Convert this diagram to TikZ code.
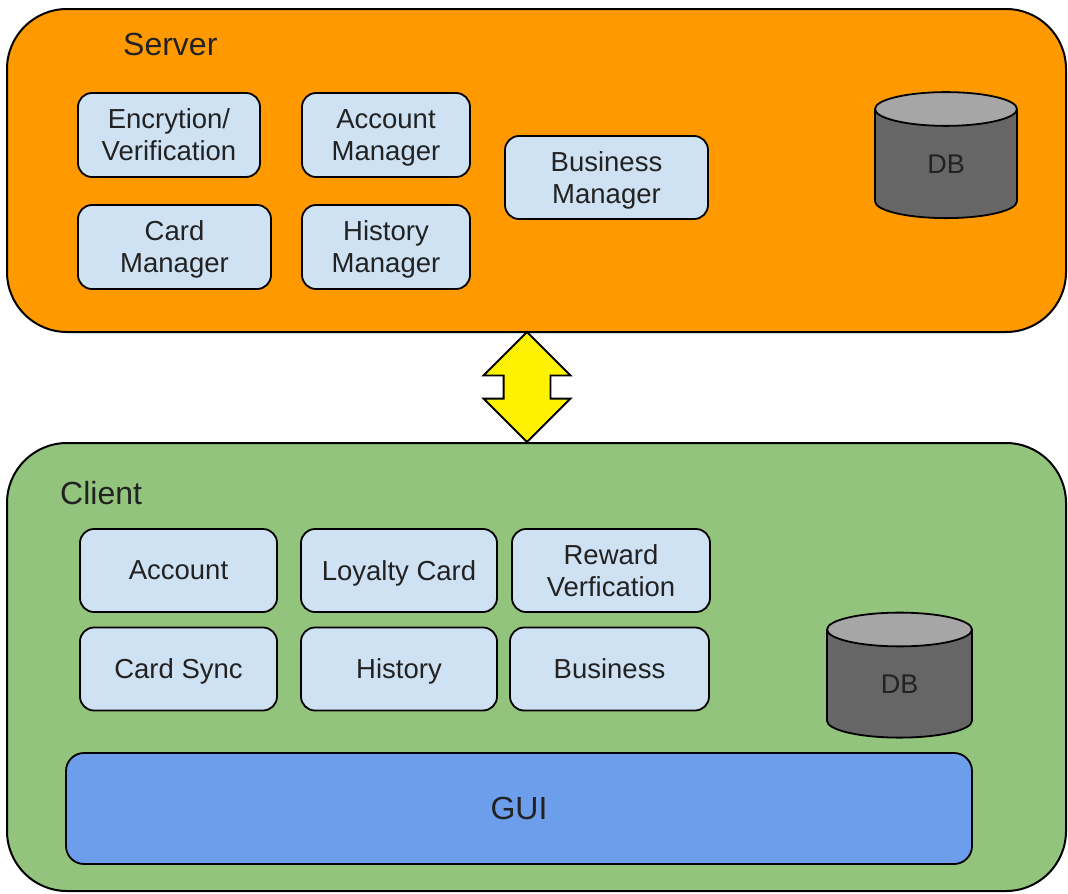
\documentclass[tikz,border=0pt]{standalone}
\usepackage{fontspec}
\setmainfont{Liberation Sans}
\usepackage{xcolor}
\usepackage{tikz}
\usetikzlibrary{shapes.geometric}
\usetikzlibrary{shapes.arrows}
\definecolor{srvorange}{HTML}{FF9900}
\definecolor{cligreen}{HTML}{93C47D}
\definecolor{modblue}{HTML}{CFE2F3}
\definecolor{guiblue}{HTML}{6D9EEB}
\definecolor{dbbody}{HTML}{666666}
\definecolor{dbtop}{HTML}{A6A6A6}
\definecolor{txtgray}{HTML}{222222}
\tikzset{
    tier/.style = {rectangle, draw=black, line width=2pt, rounded corners=60pt, inner sep=0pt},
    orange_tier/.style = {tier, fill=srvorange},
    green_tier/.style = {tier, fill=cligreen},
    title/.style = {anchor=west, inner sep=0pt, text=txtgray, font=\fontsize{32}{36}\selectfont}
}
\tikzset{
    mod_node/.style = {rectangle, draw=black, line width=1.8pt, rounded corners=14pt, fill=modblue, align=center, text=txtgray, minimum height=84pt, inner sep=0pt, text depth=0pt, font=\fontsize{27.5}{32}\selectfont},
    gui_node/.style = {mod_node, fill=guiblue, rounded corners=18pt, minimum height=111pt, font=\fontsize{32}{36}\selectfont},
    db_node/.style = {cylinder, shape border rotate=90, aspect=0.9, draw=black, line width=1.8pt, cylinder uses custom fill, cylinder body fill=dbbody, cylinder end fill=dbtop, text=txtgray, inner sep=0pt, font=\fontsize{27}{30}\selectfont},
    link_arrow/.style = {double arrow, shape border rotate=90, draw=black, line width=1.8pt, fill=yellow, minimum height=110pt, inner sep=22.5pt, double arrow head extend=20pt, double arrow head indent=0pt}
}

\begin{document}
\begin{tikzpicture}[x=1pt, y=-1pt]
    \useasboundingbox (0,0) rectangle (1068,894);

    \node (srv) [orange_tier, minimum width=1059pt, minimum height=323pt] at (536.5,170.5) {};
    \node (srv_title) [title] at (123,44) {Server};
    \node (enc) [mod_node, minimum width=182pt] at (169,135) {Encrytion/\\Verification};
    \node (acc_mgr) [mod_node, minimum width=168pt] at (386,135) {Account\\Manager};
    \node (card_mgr) [mod_node, minimum width=193pt] at (174.5,247) {Card\\Manager};
    \node (hist_mgr) [mod_node, minimum width=168pt] at (386,247) {History\\Manager};
    \node (bus_mgr) [mod_node, minimum width=203pt, minimum height=83pt] at (606.5,177.5) {Business\\Manager};
    \node (srv_db) [db_node, minimum width=142pt, minimum height=126pt] at (946,164) {DB};

    \node (link) [link_arrow] at (527,387) {};

    \node (cli) [green_tier, minimum width=1059pt, minimum height=448pt] at (536.5,667) {};
    \node (cli_title) [title] at (60,493) {Client};
    \node (c_acc) [mod_node, minimum width=197pt, minimum height=83pt] at (178.5,570.5) {Account};
    \node (c_loy) [mod_node, minimum width=196pt, minimum height=83pt] at (399,570.5) {Loyalty Card};
    \node (c_rew) [mod_node, minimum width=198pt, minimum height=83pt] at (611,570.5) {Reward\\Verfication};
    \node (c_sync) [mod_node, minimum width=197pt, minimum height=83pt] at (178.5,669) {Card Sync};
    \node (c_hist) [mod_node, minimum width=196pt, minimum height=83pt] at (399,669) {History};
    \node (c_bus) [mod_node, minimum width=199pt, minimum height=83pt] at (609.5,669) {Business};
    \node (cli_db) [db_node, minimum width=145pt, minimum height=125pt] at (899.5,684) {DB};
    \node (gui) [gui_node, minimum width=906pt] at (519,808.5) {GUI};
\end{tikzpicture}
\end{document}
